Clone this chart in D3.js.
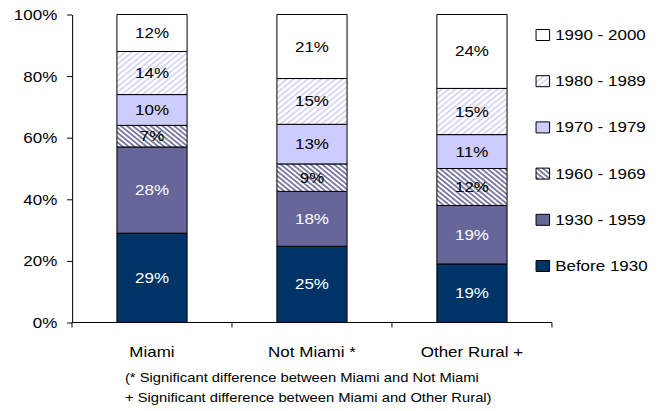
<!DOCTYPE html>
<meta charset="utf-8">
<style>
    body { margin: 0; background: #fff; }
    text { font-family: "Liberation Sans", Arial, sans-serif; font-size: 13.8px; fill: #000; }
    .foot { font-size: 12px; }
    .axis path, .axis line, .mark { vector-effect: non-scaling-stroke; }
</style>
<body>
<script src="https://cdn.jsdelivr.net/npm/d3@7"></script>
<script>

    var categories = ["Miami", "Not Miami *", "Other Rural +"];
    var periods = ["Before 1930", "1930 - 1959", "1960 - 1969", "1970 - 1979", "1980 - 1989", "1990 - 2000"];
    var before1930 = [29, 25, 19];
    var p1930_1959 = [28, 18, 19];
    var p1960_1969 = [7, 9, 12];
    var p1970_1979 = [10, 13, 11];
    var p1980_1989 = [14, 15, 15];
    var p1990_2000 = [12, 21, 24];
    var yTicks = [0, 0.2, 0.4, 0.6, 0.8, 1];
    var notes = ["(* Significant difference between Miami and Not Miami",
                 "+ Significant difference between Miami and Other Rural)"];

    var seriesValues = [before1930, p1930_1959, p1960_1969, p1970_1979, p1980_1989, p1990_2000];
    var rows = categories.map(function(c, i) {
        var r = {cat: c};
        periods.forEach(function(p, j) { r[p] = seriesValues[j][i]; });
        return r;
    });

    // chart was drawn ~537 wide and stretched to 661
    var vw = 537, vh = 411;
    var svg = d3.select("body").append("svg")
        .attr("width", 661)
        .attr("height", 411)
        .attr("viewBox", "0 0 " + vw + " " + vh)
        .attr("preserveAspectRatio", "none");

    var defs = svg.append("defs");
    var p1 = defs.append("pattern").attr("id", "light").attr("patternUnits", "userSpaceOnUse")
        .attr("width", 4).attr("height", 4).attr("patternTransform", "rotate(45)");
    p1.append("rect").attr("width", 4).attr("height", 4).attr("fill", "#fff");
    p1.append("rect").attr("width", 1.4).attr("height", 4).attr("fill", "#d0d0f4");
    var p2 = defs.append("pattern").attr("id", "dark").attr("patternUnits", "userSpaceOnUse")
        .attr("width", 3.4).attr("height", 3.4).attr("patternTransform", "rotate(-45)");
    p2.append("rect").attr("width", 3.4).attr("height", 3.4).attr("fill", "#fff");
    p2.append("rect").attr("width", 1.7).attr("height", 3.4).attr("fill", "#7a7aa6");

    var fills = ["#003366", "#666699", "url(#dark)", "#ccccff", "url(#light)", "#ffffff"];
    var textColors = ["#fff", "#fff", "#000", "#000", "#000", "#000"];

    var x = d3.scaleBand().domain(categories).range([58.5, 448.4]);
    var y = d3.scaleLinear().domain([0, 1]).range([322.5, 14.5]);
    var barW = 57;

    var stacked = d3.stack().keys(periods).offset(d3.stackOffsetExpand)(rows);

    var layer = svg.selectAll(".layer")
        .data(stacked)
        .enter().append("g")
        .attr("class", "layer");

    layer.each(function(s, k) {
        var g = d3.select(this);
        g.selectAll("rect")
            .data(s)
            .enter().append("rect")
            .attr("class", "mark")
            .attr("x", function(d) { return x(d.data.cat) + (x.bandwidth() - barW) / 2; })
            .attr("y", function(d) { return y(d[1]); })
            .attr("width", barW)
            .attr("height", function(d) { return y(d[0]) - y(d[1]); })
            .attr("fill", fills[k])
            .attr("stroke", "#000")
            .attr("stroke-width", 1);

        g.selectAll("text")
            .data(s)
            .enter().append("text")
            .attr("x", function(d) { return x(d.data.cat) + x.bandwidth() / 2; })
            .attr("y", function(d) { return (y(d[0]) + y(d[1])) / 2 + 5; })
            .attr("text-anchor", "middle")
            .style("fill", textColors[k])
            .text(function(d) { return d.data[s.key] + "%"; });
    });

    // y axis
    svg.append("g")
        .attr("class", "axis")
        .attr("transform", "translate(58.5,0)")
        .call(d3.axisLeft(y).tickValues(yTicks).tickFormat(d3.format(".0%")).tickSize(4).tickSizeOuter(0).tickPadding(8))
        .call(function(g) {
            g.select(".domain").attr("stroke", "#000");
            g.selectAll("line").attr("stroke", "#000");
            g.selectAll("text").attr("font-size", null).attr("font-family", null).attr("dy", "0.36em");
        });

    // x axis with ticks at category boundaries
    var bounds = categories.map(function(c) { return x(c); }).concat([x.range()[1]]);
    var xa = svg.append("g").attr("class", "axis");
    xa.append("line").attr("class", "mark")
        .attr("x1", x.range()[0]).attr("x2", x.range()[1])
        .attr("y1", y(0)).attr("y2", y(0)).attr("stroke", "#000");
    xa.selectAll(".tk").data(bounds).enter().append("line")
        .attr("class", "mark")
        .attr("x1", function(d) { return d; }).attr("x2", function(d) { return d; })
        .attr("y1", y(0)).attr("y2", y(0) + 5).attr("stroke", "#000");
    xa.selectAll(".cl").data(categories).enter().append("text")
        .attr("x", function(d) { return x(d) + x.bandwidth() / 2; })
        .attr("y", 357.5)
        .attr("text-anchor", "middle")
        .text(function(d) { return d; });

    svg.selectAll(".foot").data(notes).enter().append("text")
        .attr("class", "foot")
        .attr("x", 101.5)
        .attr("y", function(d, i) { return 382 + i * 20; })
        .text(function(d) { return d; });

    // legend, top to bottom newest first
    var legend = svg.selectAll(".leg")
        .data(periods.slice().reverse())
        .enter().append("g")
        .attr("class", "leg")
        .attr("transform", function(d, i) { return "translate(435.5," + (35 + i * 46.2) + ")"; });

    legend.append("rect")
        .attr("class", "mark")
        .attr("x", 0).attr("y", -5.5)
        .attr("width", 11).attr("height", 11)
        .attr("fill", function(d) { return fills[periods.indexOf(d)]; })
        .attr("stroke", "#000").attr("stroke-width", 1);

    legend.append("text")
        .attr("x", 15.5)
        .attr("y", 5)
        .text(function(d) { return d; });

</script>
